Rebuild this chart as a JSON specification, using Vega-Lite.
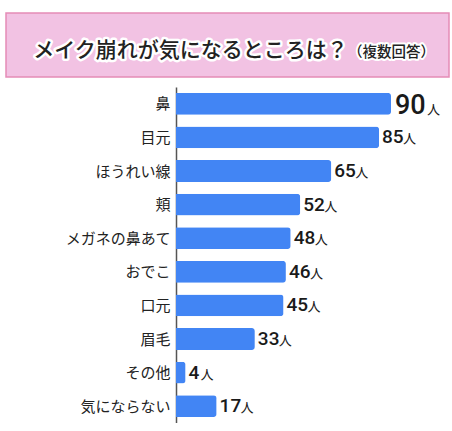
{
  "$schema": "https://vega.github.io/schema/vega-lite/v6.json",
  "padding": {"left": 5, "top": 12, "right": 0, "bottom": 0},
  "background": "white",
  "config": {"font": "Noto Sans CJK JP", "view": {"stroke": null}},
  "spacing": 9,
  "vconcat": [
    {
      "width": 443,
      "height": 64,
      "view": {"fill": "#f2c2e3", "stroke": "#e58cb6", "strokeWidth": 1.5},
      "data": {"values": [{"title": "メイク崩れが気になるところは？", "sub": "（複数回答）"}]},
      "layer": [
        {"mark": {"type": "text", "fontSize": 21, "fontWeight": 500, "stroke": "white", "strokeWidth": 5, "strokeJoin": "round", "fill": "white", "dx": -37, "dy": 6}, "encoding": {"text": {"field": "title"}}},
        {"mark": {"type": "text", "fontSize": 21, "fontWeight": 500, "fill": "#222222", "dx": -37, "dy": 6}, "encoding": {"text": {"field": "title"}}},
        {"mark": {"type": "text", "fontSize": 14.5, "fontWeight": 500, "stroke": "white", "strokeWidth": 4, "strokeJoin": "round", "fill": "white", "dx": 164, "dy": 8}, "encoding": {"text": {"field": "sub"}}},
        {"mark": {"type": "text", "fontSize": 14.5, "fontWeight": 500, "fill": "#222222", "dx": 164, "dy": 8}, "encoding": {"text": {"field": "sub"}}}
      ]
    },
    {
      "data": {"values": [
        {"item": "鼻", "v": 90},
        {"item": "目元", "v": 85},
        {"item": "ほうれい線", "v": 65},
        {"item": "頬", "v": 52},
        {"item": "メガネの鼻あて", "v": 48},
        {"item": "おでこ", "v": 46},
        {"item": "口元", "v": 45},
        {"item": "眉毛", "v": 33},
        {"item": "その他", "v": 4},
        {"item": "気にならない", "v": 17}
      ]},
      "spacing": 6,
      "hconcat": [
        {
          "width": 164,
          "height": 336,
          "mark": {"type": "point", "opacity": 0},
          "encoding": {
            "y": {"field": "item", "type": "nominal", "sort": null,
              "scale": {"paddingInner": 0.35, "paddingOuter": 0.175},
              "axis": {"orient": "right", "title": null, "ticks": false, "domain": false, "labelAlign": "right", "labelPadding": 0, "labelFontSize": 15, "labelFontWeight": 400, "labelColor": "#222222", "labelFont": "Noto Sans CJK JP"}}
          }
        },
        {
          "width": 215,
          "height": 336,
          "encoding": {
            "y": {"field": "item", "type": "nominal", "sort": null,
              "scale": {"paddingInner": 0.35, "paddingOuter": 0.175},
              "axis": {"title": null, "ticks": false, "labels": false, "domainColor": "#555555", "domainWidth": 1.5}},
            "x": {"field": "v", "type": "quantitative", "scale": {"domain": [0, 90], "nice": false}, "axis": null}
          },
          "layer": [
            {"mark": {"type": "bar", "color": "#4285f4", "cornerRadiusEnd": 3}},
            {"transform": [{"filter": "datum.v < 90"}],
             "mark": {"type": "text", "align": "left", "baseline": "alphabetic", "dx": 3, "dy": 6, "fontSize": 19, "fontWeight": 500, "font": "Roboto", "color": "#1a1a1a"},
             "encoding": {"text": {"field": "v"}}},
            {"transform": [{"filter": "datum.v >= 10 && datum.v < 90"}],
             "mark": {"type": "text", "align": "left", "baseline": "alphabetic", "dx": 24, "dy": 6, "fontSize": 13, "color": "#1a1a1a", "text": "人"},
             "encoding": {}},
            {"transform": [{"filter": "datum.v < 10"}],
             "mark": {"type": "text", "align": "left", "baseline": "alphabetic", "dx": 15, "dy": 6, "fontSize": 13, "color": "#1a1a1a", "text": "人"},
             "encoding": {}},
            {"transform": [{"filter": "datum.v >= 90"}],
             "mark": {"type": "text", "align": "left", "baseline": "alphabetic", "dx": 4, "dy": 10, "fontSize": 27, "fontWeight": 500, "font": "Roboto", "color": "#1a1a1a"},
             "encoding": {"text": {"field": "v"}}},
            {"transform": [{"filter": "datum.v >= 90"}],
             "mark": {"type": "text", "align": "left", "baseline": "alphabetic", "dx": 36, "dy": 10, "fontSize": 13, "color": "#1a1a1a", "text": "人"},
             "encoding": {}}
          ]
        }
      ]
    }
  ]
}
